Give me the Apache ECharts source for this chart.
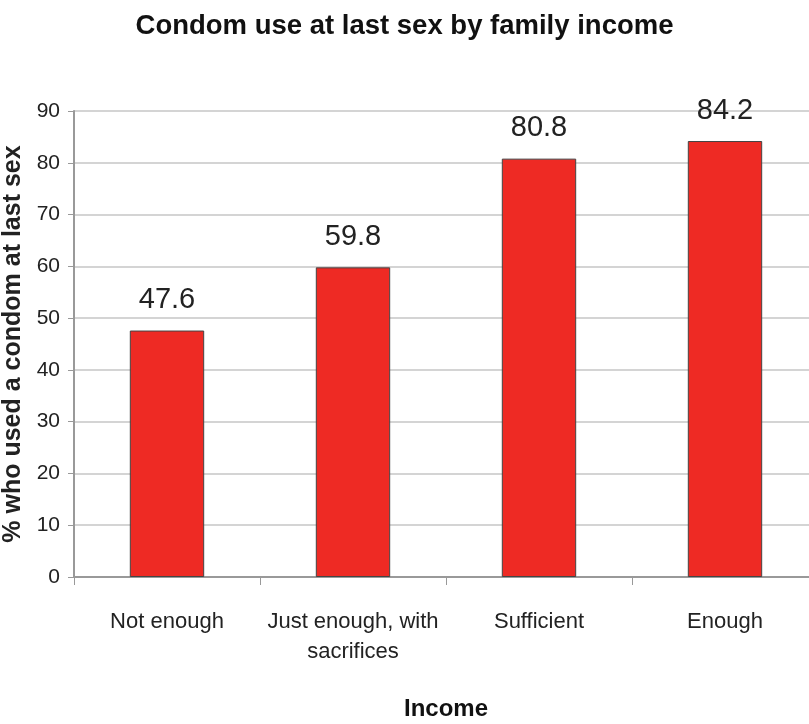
<!DOCTYPE html>
<html><head><meta charset="utf-8">
<script src="https://cdn.jsdelivr.net/npm/echarts@6/dist/echarts.min.js"></script>
<style>html,body{margin:0;padding:0;background:#fff}#c{width:809px;height:724px}</style>
</head><body><div id="c"></div>
<script>
const categories = ['Not enough', 'Just enough, with\nsacrifices', 'Sufficient', 'Enough'];
const values = [47.6, 59.8, 80.8, 84.2];
const yTicks = [0, 10, 20, 30, 40, 50, 60, 70, 80, 90];
const titleText = 'Condom use at last sex by family income';
const yName = '% who used a condom at last sex';
const xName = 'Income';

const FONT = '"Liberation Sans", Arial, sans-serif';
const chart = echarts.init(document.getElementById('c'), null, {renderer: 'canvas'});
chart.setOption({
  backgroundColor: '#fff',
  animation: false,
  title: {
    text: titleText, left: 'center', top: 7,
    textStyle: {fontFamily: FONT, fontWeight: 'bold', fontSize: 27.5, color: '#111'}
  },
  grid: {left: 74, right: -9, top: 111, bottom: 147, containLabel: false, outerBoundsMode: 'none'},
  xAxis: {
    type: 'category', data: categories,
    name: xName, nameLocation: 'middle', nameGap: 120,
    nameTextStyle: {fontFamily: FONT, fontWeight: 'bold', fontSize: 24, color: '#111'},
    axisLine: {lineStyle: {color: '#999', width: 2}},
    axisTick: {show: true, alignWithLabel: false, length: 8, lineStyle: {color: '#999', width: 1}},
    axisLabel: {fontFamily: FONT, fontSize: 22, color: '#222', margin: 30, lineHeight: 30, interval: 0}
  },
  yAxis: {
    type: 'value', min: 0, max: 90, interval: 10,
    name: yName, nameLocation: 'middle', nameGap: 44, nameRotate: 90,
    nameTextStyle: {fontFamily: FONT, fontWeight: 'bold', fontSize: 25, color: '#222'},
    axisLine: {show: true, lineStyle: {color: '#999', width: 2}},
    axisTick: {show: true, length: 6, lineStyle: {color: '#999', width: 1}},
    axisLabel: {fontFamily: FONT, fontSize: 21, color: '#222', margin: 14,
      formatter: v => yTicks.includes(v) ? String(v) : ''},
    splitLine: {show: true, lineStyle: {color: '#d4d4d4', width: 2}}
  },
  series: [{
    type: 'bar', data: values, barWidth: '40%',
    itemStyle: {color: '#ee2a24', borderColor: '#444', borderWidth: 1},
    label: {show: true, position: 'top', distance: 16, fontFamily: FONT, fontSize: 29, color: '#222',
      formatter: p => p.value.toFixed(1)}
  }]
});
</script></body></html>
